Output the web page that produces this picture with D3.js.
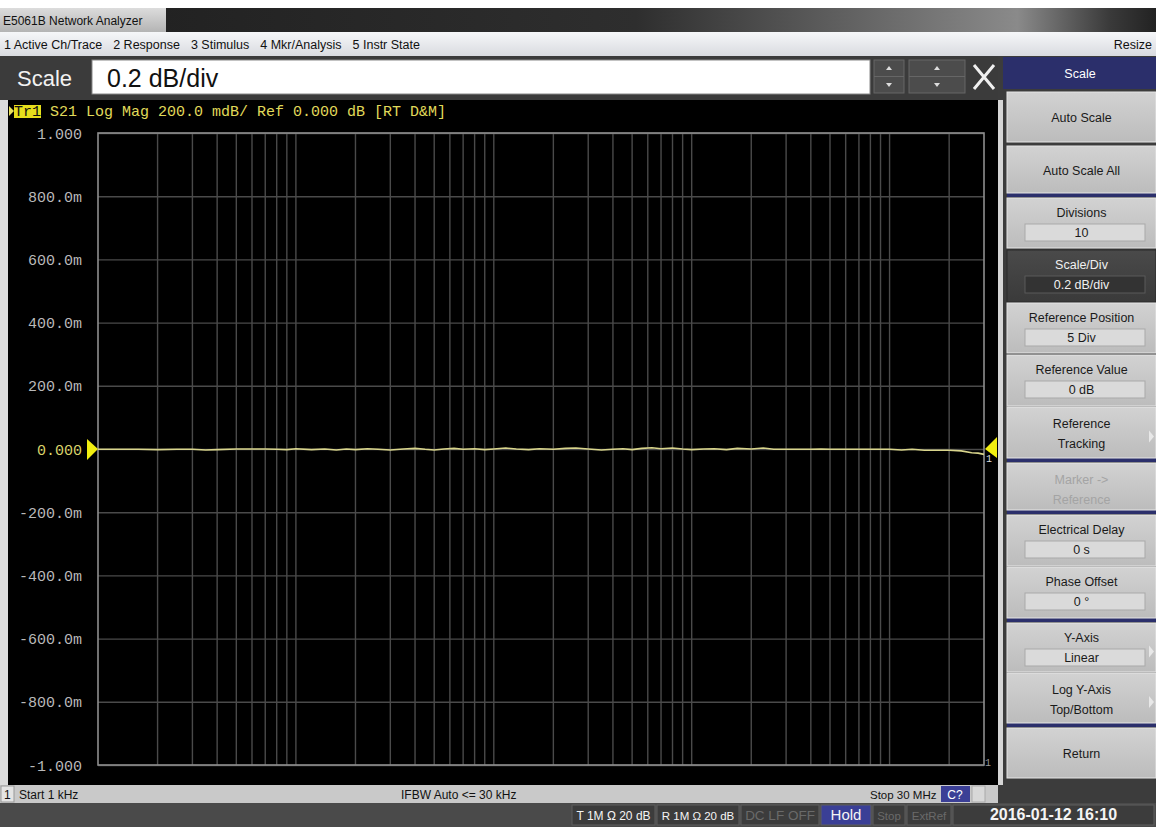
<!DOCTYPE html>
<html>
<head>
<meta charset="utf-8">
<script src="https://cdn.jsdelivr.net/npm/d3@7"></script>
<style>
  body { margin: 0; background: #fff; }
  svg { display: block; }
  .ui { font-family: "Liberation Sans", "DejaVu Sans", sans-serif; }
  .mono { font-family: "Liberation Mono", "DejaVu Sans Mono", monospace; }
</style>
</head>
<body>
<svg id="screen"></svg>
<script>
// stimulus points (Hz) and S21 log mag readings (dB)
const freqs = [1e3, 1.3e3, 1.6e3, 2e3, 2.5e3, 3e3, 3.5e3, 4e3, 5e3, 6e3, 7e3, 8e3, 9e3,
  10e3, 12e3, 14e3, 16e3, 18e3, 20e3, 23e3, 26e3, 30e3, 35e3, 40e3, 45e3, 50e3, 56e3, 63e3, 70e3, 80e3, 90e3,
  100e3, 115e3, 130e3, 150e3, 170e3, 200e3, 230e3, 260e3, 300e3, 350e3, 400e3, 450e3, 500e3, 560e3, 630e3, 700e3, 800e3, 900e3,
  1e6, 1.15e6, 1.3e6, 1.5e6, 1.7e6, 2e6, 2.3e6, 2.6e6, 3e6, 3.5e6, 4e6, 4.5e6, 5e6, 5.6e6, 6.3e6, 7e6, 8e6, 9e6,
  10e6, 11.5e6, 13e6, 15e6, 17e6, 20e6, 23e6, 26e6, 28e6, 30e6];
const s21 = [-0.001, -0.001, -0.001, -0.002, -0.001, -0.001, -0.003, -0.002, 0.000, 0.000, 0.000, -0.001, -0.002,
  0.001, -0.002, 0.000, -0.003, 0.000, -0.002, 0.001, -0.001, -0.003, 0.000, 0.002, -0.001, -0.003, 0.000, 0.002, -0.001, 0.001, -0.002,
  0.000, 0.003, 0.000, -0.002, 0.001, -0.001, 0.002, 0.003, 0.000, -0.003, -0.001, 0.001, -0.002, 0.002, 0.004, 0.001, 0.003, 0.000,
  -0.002, 0.000, 0.001, -0.002, 0.002, 0.000, 0.003, -0.001, -0.001, -0.001, -0.001, 0.000, -0.001, -0.001, -0.001, -0.001, -0.001, -0.001,
  -0.001, -0.003, -0.001, -0.004, -0.004, -0.004, -0.006, -0.012, -0.013, -0.017];

const yTicks = [1, 0.8, 0.6, 0.4, 0.2, 0, -0.2, -0.4, -0.6, -0.8, -1];
const yLabels = ["1.000", "800.0m", "600.0m", "400.0m", "200.0m", "0.000", "-200.0m", "-400.0m", "-600.0m", "-800.0m", "-1.000"];
const menuItems = ["1 Active Ch/Trace", "2 Response", "3 Stimulus", "4 Mkr/Analysis", "5 Instr State"];

const W = 1156, H = 827;
const svg = d3.select("#screen").attr("width", W).attr("height", H);
const defs = svg.append("defs");

function grad(id, stops, vertical = true) {
  const g = defs.append("linearGradient").attr("id", id)
    .attr("x1", 0).attr("y1", 0).attr("x2", vertical ? 0 : 1).attr("y2", vertical ? 1 : 0);
  stops.forEach(s => g.append("stop").attr("offset", s[0]).attr("stop-color", s[1]));
}
grad("titleBar", [[0, "#1e1e1e"], [0.55, "#2e2e2e"], [0.88, "#8a8a8a"], [0.96, "#3a3a3a"], [1, "#222"]], false);
grad("tab", [[0, "#dcdcdc"], [1, "#b4b4b4"]]);
grad("menu", [[0, "#f6f7f9"], [1, "#d9dbe0"]]);
grad("btn", [[0, "#d2d2d2"], [1, "#bcbcbc"]]);
grad("btnDark", [[0, "#4a4a4a"], [1, "#3a3a3a"]]);

// shrink a text's font until it fits its box
function fit(t, w) {
  let fs = +t.attr("font-size");
  while (t.node().getComputedTextLength() > w && fs > 8) {
    fs -= 0.5;
    t.attr("font-size", fs);
  }
  return t;
}

// ---- window chrome ----
svg.append("rect").attr("x", 0).attr("y", 8).attr("width", W).attr("height", 24).attr("fill", "url(#titleBar)");
svg.append("rect").attr("x", 0).attr("y", 8).attr("width", 166).attr("height", 24).attr("fill", "url(#tab)");
svg.append("text").attr("class", "ui").attr("x", 3).attr("y", 25).attr("font-size", 12).attr("fill", "#111")
  .text("E5061B Network Analyzer");

svg.append("rect").attr("x", 0).attr("y", 32).attr("width", W).attr("height", 24).attr("fill", "url(#menu)");
let mx = 4;
const menu = svg.append("g").attr("class", "ui").attr("font-size", 12.5).attr("fill", "#111");
menuItems.forEach(m => {
  const t = menu.append("text").attr("x", mx).attr("y", 49).text(m);
  mx += t.node().getComputedTextLength() + 11;
});
menu.append("text").attr("x", 1152).attr("y", 49).attr("text-anchor", "end").text("Resize");

// scale entry bar
svg.append("rect").attr("x", 0).attr("y", 56).attr("width", W).attr("height", 44).attr("fill", "#3b3b3b");
svg.append("text").attr("class", "ui").attr("x", 17).attr("y", 86).attr("font-size", 22).attr("fill", "#f2f2f2").text("Scale");
svg.append("rect").attr("x", 92).attr("y", 60).attr("width", 778).attr("height", 34).attr("fill", "#fff")
  .attr("stroke", "#888");
svg.append("text").attr("class", "ui").attr("x", 107).attr("y", 87).attr("font-size", 25).attr("fill", "#111").text("0.2 dB/div");
[[874, 30], [909, 56]].forEach(([x, w]) => {
  svg.append("rect").attr("x", x).attr("y", 60).attr("width", w).attr("height", 33).attr("fill", "#4c4c4c").attr("stroke", "#666");
  svg.append("line").attr("x1", x).attr("x2", x + w).attr("y1", 76.5).attr("y2", 76.5).attr("stroke", "#666");
  const cx = x + w / 2;
  svg.append("path").attr("d", `M${cx - 3},70 L${cx + 3},70 L${cx},66 Z`).attr("fill", "#ddd");
  svg.append("path").attr("d", `M${cx - 3},83 L${cx + 3},83 L${cx},87 Z`).attr("fill", "#ddd");
});
svg.append("path").attr("d", "M974,65 L994,89 M994,65 L974,89").attr("stroke", "#f0f0f0").attr("stroke-width", 3);

// ---- plot area ----
svg.append("rect").attr("x", 0).attr("y", 100).attr("width", 1003).attr("height", 685).attr("fill", "#dcdcdc");
svg.append("rect").attr("x", 8).attr("y", 100).attr("width", 990).attr("height", 685).attr("fill", "#000");

const plot = { left: 98, right: 984, top: 133, bottom: 765 };
const xScale = d3.scaleLog().domain([1e3, 30e6]).range([plot.left, plot.right]);
const yScale = d3.scaleLinear().domain([-1, 1]).range([plot.bottom, plot.top]);

const grid = svg.append("g");
grid.selectAll(".vgrid")
  .data(xScale.ticks().filter(f => f > 1e3 && f < 30e6))
  .enter().append("line")
  .attr("x1", d => xScale(d)).attr("x2", d => xScale(d))
  .attr("y1", plot.top).attr("y2", plot.bottom)
  .attr("stroke", "#4a4a4a").attr("stroke-width", 1.4);

const yAxis = svg.append("g")
  .attr("transform", `translate(${plot.left},0)`)
  .call(d3.axisLeft(yScale).tickValues(yTicks).tickFormat((d, i) => yLabels[i])
    .tickSize(-(plot.right - plot.left)).tickPadding(16));
yAxis.select(".domain").remove();
yAxis.selectAll(".tick line").attr("stroke", "#4a4a4a").attr("stroke-width", 1.4);
yAxis.selectAll(".tick text").attr("class", "mono").attr("font-size", 15)
  .attr("fill", d => d === 0 ? "#d9d46a" : "#b9b9b9").attr("dy", "0.34em");

svg.append("rect").attr("x", plot.left).attr("y", plot.top)
  .attr("width", plot.right - plot.left).attr("height", plot.bottom - plot.top)
  .attr("fill", "none").attr("stroke", "#8e8e8e").attr("stroke-width", 1.6);

// trace
const line = d3.line().x((d, i) => xScale(freqs[i])).y(d => yScale(d));
svg.append("path").datum(s21).attr("d", line)
  .attr("fill", "none").attr("stroke", "#d9d58c").attr("stroke-width", 1.6);

// reference markers
const y0 = yScale(0);
svg.append("path").attr("d", `M${plot.left - 11},${y0 - 10} L${plot.left},${y0} L${plot.left - 11},${y0 + 11} Z`).attr("fill", "#f2ee10");
svg.append("path").attr("d", `M${plot.right + 13},${y0 - 12} L${plot.right + 1},${y0} L${plot.right + 13},${y0 + 9} Z`).attr("fill", "#f2ee10");
svg.append("text").attr("class", "mono").attr("x", plot.right + 2).attr("y", y0 + 13).attr("font-size", 10).attr("fill", "#ddd").text("1");
svg.append("text").attr("class", "mono").attr("x", plot.right + 1).attr("y", plot.bottom + 1).attr("font-size", 10).attr("fill", "#999").text("1");

// trace title
svg.append("path").attr("d", "M9,106 L14,111 L9,116 Z").attr("fill", "#e8e05a");
svg.append("rect").attr("x", 14).attr("y", 105).attr("width", 27).attr("height", 13).attr("fill", "#e6de1c");
const title = svg.append("text").attr("class", "mono").attr("x", 14).attr("y", 116).attr("font-size", 15)
  .attr("xml:space", "preserve");
title.append("tspan").attr("fill", "#111").text("Tr1");
title.append("tspan").attr("fill", "#e0da5a").text(" S21 Log Mag 200.0 mdB/ Ref 0.000 dB [RT D&M]");

// ---- status line ----
svg.append("rect").attr("x", 0).attr("y", 785).attr("width", 1003).attr("height", 18).attr("fill", "#c9c9c9");
svg.append("rect").attr("x", 1).attr("y", 786).attr("width", 13).attr("height", 16).attr("fill", "#e4e4e4").attr("stroke", "#999");
const st = svg.append("g").attr("class", "ui").attr("font-size", 12).attr("fill", "#111");
st.append("text").attr("x", 4).attr("y", 799).text("1");
st.append("text").attr("x", 19).attr("y", 799).text("Start 1 kHz");
st.append("text").attr("x", 401).attr("y", 799).text("IFBW Auto <= 30 kHz");
fit(st.append("text").attr("x", 870).attr("y", 799).attr("font-size", 12).text("Stop 30 MHz"), 67);
svg.append("rect").attr("x", 941).attr("y", 786).attr("width", 29).attr("height", 16).attr("fill", "#3b3f96");
svg.append("text").attr("class", "ui").attr("x", 955).attr("y", 799).attr("text-anchor", "middle").attr("font-size", 12).attr("fill", "#fff").text("C?");
svg.append("rect").attr("x", 972).attr("y", 786).attr("width", 13).attr("height", 16).attr("fill", "#d8d8d8").attr("stroke", "#aaa");

// ---- bottom bar ----
svg.append("rect").attr("x", 0).attr("y", 803).attr("width", W).attr("height", 24).attr("fill", "#4a4a4a");
const stat = [
  { x: 572, w: 83, t: "T 1M Ω 20 dB", fg: "#f4f4f4", bg: "#3c3c3c" },
  { x: 657, w: 82, t: "R 1M Ω 20 dB", fg: "#f4f4f4", bg: "#3c3c3c" },
  { x: 741, w: 78, t: "DC LF OFF", fg: "#6a6a6a", bg: "#3c3c3c" },
  { x: 821, w: 50, t: "Hold", fg: "#f4f4f4", bg: "#3a3f96" },
  { x: 873, w: 32, t: "Stop", fg: "#6a6a6a", bg: "#3c3c3c" },
  { x: 907, w: 44, t: "ExtRef", fg: "#6a6a6a", bg: "#3c3c3c" },
  { x: 953, w: 201, t: "2016-01-12 16:10", fg: "#f4f4f4", bg: "#3c3c3c" }
];
stat.forEach(s => {
  svg.append("rect").attr("x", s.x).attr("y", 805).attr("width", s.w).attr("height", 20).attr("fill", s.bg).attr("stroke", "#5e5e5e");
  const big = s.t.startsWith("2016");
  const t = svg.append("text").attr("class", "ui").attr("x", s.x + s.w / 2).attr("y", 820).attr("text-anchor", "middle")
    .attr("font-size", big ? 16 : 15).attr("font-weight", big ? "bold" : "normal")
    .attr("fill", s.fg).text(s.t);
  fit(t, s.w - 8);
});

// ---- softkey panel ----
svg.append("rect").attr("x", 998).attr("y", 56).attr("width", 158).attr("height", 747).attr("fill", "#3c3c3c");
svg.append("rect").attr("x", 998).attr("y", 100).attr("width", 5).attr("height", 685).attr("fill", "#d6d6d6");
svg.append("rect").attr("x", 1003).attr("y", 57).attr("width", 153).attr("height", 32).attr("fill", "#2b2f6b");
svg.append("text").attr("class", "ui").attr("x", 1080).attr("y", 78).attr("text-anchor", "middle").attr("font-size", 12.5)
  .attr("fill", "#fff").text("Scale");

const keys = [
  { y: 92, h: 50, l: ["Auto Scale"] },
  { y: 146, h: 47, l: ["Auto Scale All"], sep: 193 },
  { y: 198, h: 50, l: ["Divisions"], v: "10" },
  { y: 250, h: 52, l: ["Scale/Div"], v: "0.2 dB/div", dark: true },
  { y: 303, h: 50, l: ["Reference Position"], v: "5 Div" },
  { y: 355, h: 51, l: ["Reference Value"], v: "0 dB" },
  { y: 407, h: 51, l: ["Reference", "Tracking"], arrow: true, sep: 458 },
  { y: 463, h: 47, l: ["Marker ->", "Reference"], off: true, sep: 510 },
  { y: 515, h: 51, l: ["Electrical Delay"], v: "0 s" },
  { y: 567, h: 51, l: ["Phase Offset"], v: "0 °", sep: 618 },
  { y: 623, h: 49, l: ["Y-Axis"], v: "Linear", arrow: true },
  { y: 673, h: 50, l: ["Log Y-Axis", "Top/Bottom"], arrow: true, sep: 723 },
  { y: 728, h: 50, l: ["Return"] }
];
const kx = 1007, kw = 149, kc = kx + kw / 2;
keys.forEach(k => {
  if (k.sep) svg.append("rect").attr("x", kx).attr("y", k.sep).attr("width", kw).attr("height", 4).attr("fill", "#2b2f6b");
  const key = svg.append("g");
  key.append("rect").attr("x", kx).attr("y", k.y).attr("width", kw).attr("height", k.h)
    .attr("fill", k.dark ? "url(#btnDark)" : "url(#btn)").attr("stroke", k.dark ? "#2a2a2a" : "#e6e6e6");
  if (k.v) {
    key.append("rect").attr("x", kx + 18).attr("y", k.y + 26).attr("width", 120).attr("height", 17)
      .attr("fill", k.dark ? "#333" : "#dadada").attr("stroke", k.dark ? "#5a5a5a" : "#a9a9a9");
  }
  const fg = k.dark ? "#f0f0f0" : k.off ? "#a4a4a4" : "#1a1a1a";
  const g = key.append("g").attr("class", "ui").attr("font-size", 12.5).attr("text-anchor", "middle").attr("fill", fg);
  if (k.v) {
    g.append("text").attr("x", kc).attr("y", k.y + 19).text(k.l[0]);
    g.append("text").attr("x", kc).attr("y", k.y + 39).text(k.v);
  } else if (k.l.length === 2) {
    g.append("text").attr("x", kc).attr("y", k.y + 21).text(k.l[0]);
    g.append("text").attr("x", kc).attr("y", k.y + 41).text(k.l[1]);
  } else {
    g.append("text").attr("x", kc).attr("y", k.y + k.h / 2 + 5).text(k.l[0]);
  }
  if (k.arrow) {
    const cy = k.y + k.h / 2 + 4;
    key.append("path").attr("d", `M1149,${cy - 6} L1154,${cy} L1149,${cy + 6} Z`).attr("fill", "#e8e8e8");
  }
});
</script>
</body>
</html>
